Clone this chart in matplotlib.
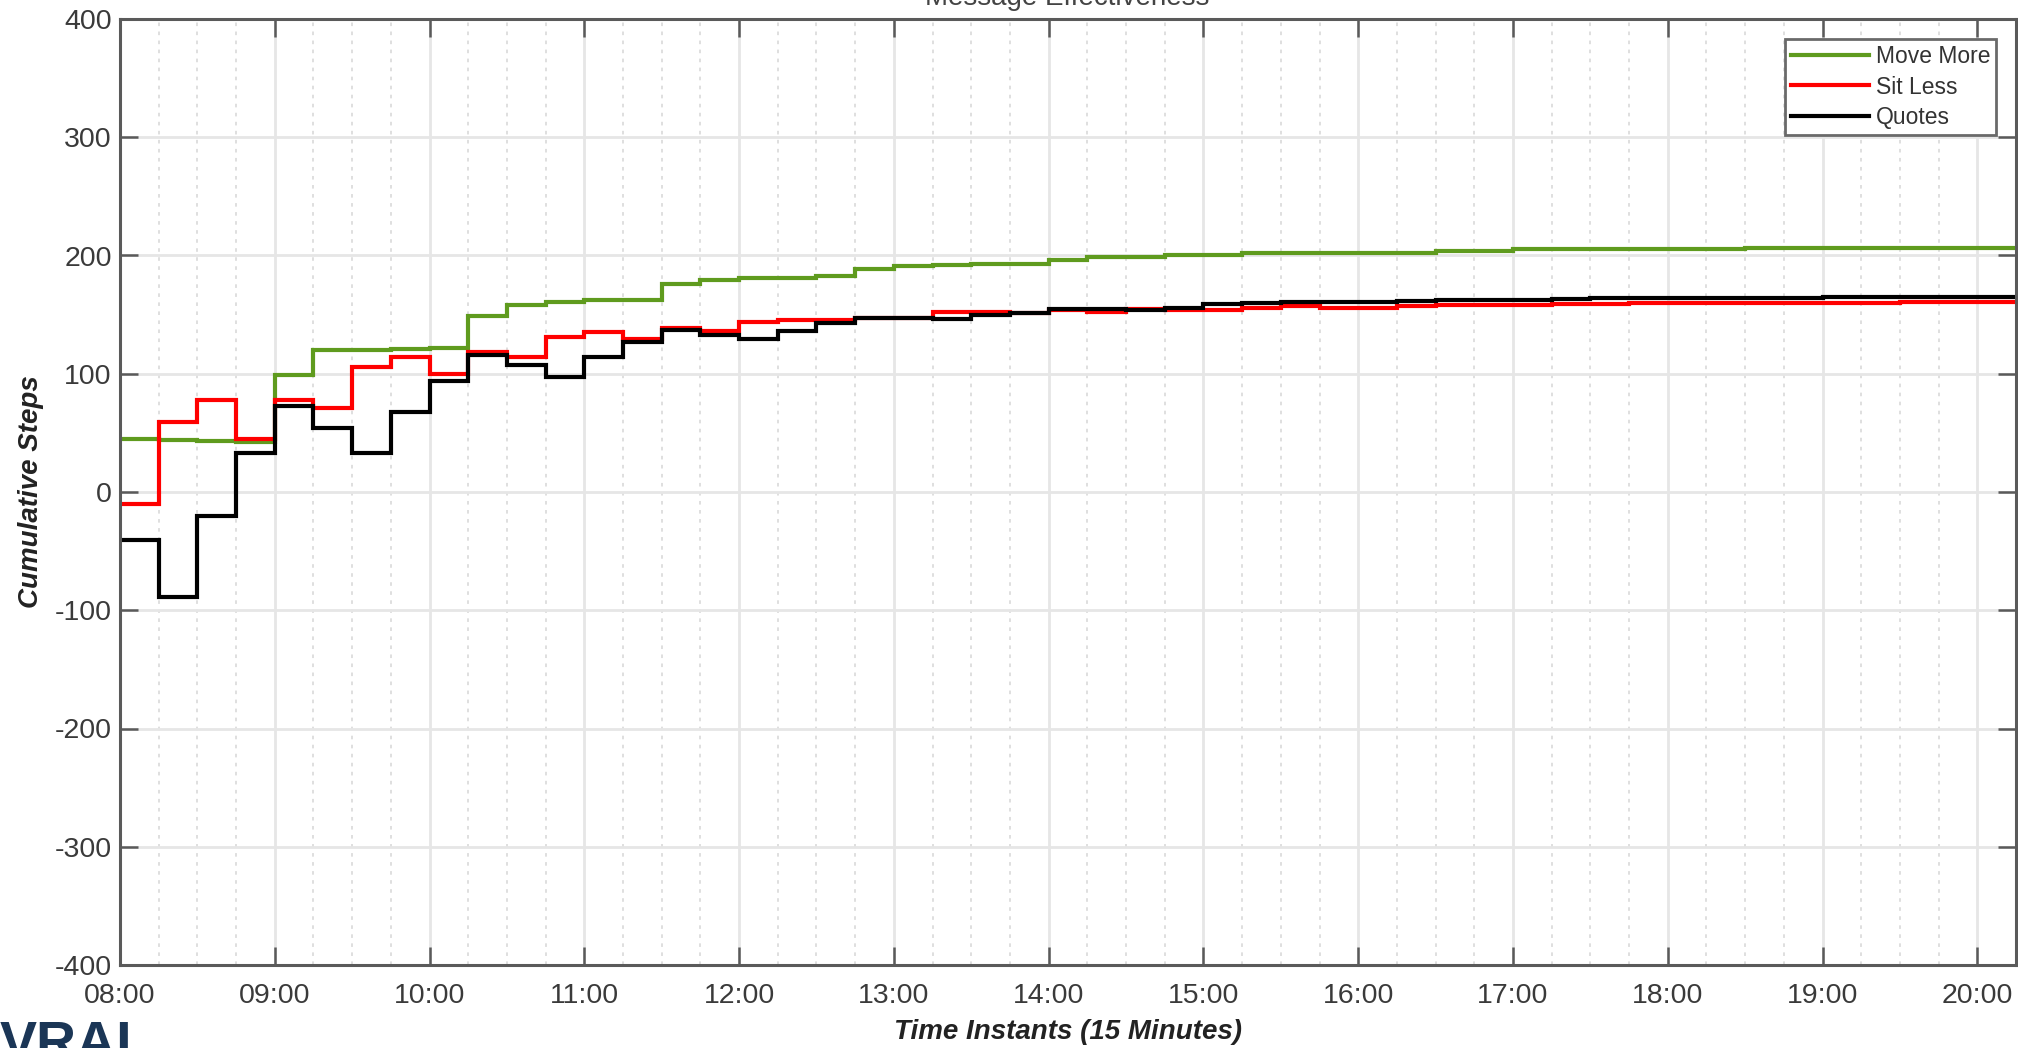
import numpy as np
import matplotlib
matplotlib.use("Agg")
import matplotlib.pyplot as plt
from matplotlib.ticker import MultipleLocator

plt.rcParams['font.family'] = ['Liberation Sans', 'DejaVu Sans']
plt.rcParams['axes.unicode_minus'] = False

# ---- data (15-minute cumulative steps, 08:00 .. 20:00, each held 15 min) ----
move_more = [45, 44, 43, 42, 99, 120, 120, 121, 121.5, 149, 158, 161, 162, 162,
             176, 179, 181, 181, 183, 189, 191, 192, 193, 193, 196, 198.5, 198.5,
             200, 200, 202, 202, 202.5, 202.5, 202.5, 204, 204, 205.5, 205.5,
             205.5, 205.5, 205.5, 205.5, 206.5, 206.5, 206.5, 206.5, 206.5,
             206.5, 206.5]
sit_less = [-10, 59, 78, 45, 78, 71, 106, 114, 100, 118, 114, 131, 135, 129,
            139, 136, 144, 145.5, 145.5, 147, 147, 152, 152.5, 151, 153.5, 152,
            155, 154, 154, 155.5, 157, 155.5, 156, 157, 158, 158, 158.5, 159,
            159, 159.5, 159.5, 159.5, 160, 160, 160, 160, 160.5, 160.5, 160.5]
quotes = [-41, -89, -20, 33, 73, 54, 33, 68, 93.5, 116, 107, 97.5, 114.5, 127,
          137, 133, 129, 136, 142.5, 147.5, 147, 146.5, 149.5, 151, 155, 154.5,
          153.5, 156, 159, 160, 160.5, 160.5, 160.5, 161.5, 162, 162, 162.5,
          163, 164, 164, 164, 164, 164, 164, 164.5, 164.5, 164.5, 164.5, 164.5]
series_names = ["Move More", "Sit Less", "Quotes"]
series_colors = ["#5f9b1e", "#ff0000", "#000000"]

start_hour = 8.0
step_hours = 0.25
hour_ticks = list(range(8, 21))
hour_labels = ["08:00", "09:00", "10:00", "11:00", "12:00", "13:00", "14:00",
               "15:00", "16:00", "17:00", "18:00", "19:00", "20:00"]
y_ticks = [-400, -300, -200, -100, 0, 100, 200, 300, 400]

W, H = 2018, 1048
fig = plt.figure(figsize=(W / 100, H / 100), dpi=100)
ax = fig.add_axes([120 / W, 1 - 965 / H, (2016 - 120) / W, (965 - 19) / H])

for vals, name, col in zip([move_more, sit_less, quotes], series_names, series_colors):
    edges = start_hour + step_hours * np.arange(len(vals) + 1)
    ax.stairs(vals, edges, color=col, linewidth=3.0, label=name, baseline=None)

ax.set_xlim(start_hour, start_hour + step_hours * len(move_more))
ax.set_ylim(-400, 400)
ax.set_xticks(hour_ticks)
ax.set_xticklabels(hour_labels)
ax.set_yticks(y_ticks)
ax.xaxis.set_minor_locator(MultipleLocator(step_hours))

ax.grid(True, which='major', color='#e6e6e6', linewidth=2.0, linestyle='-')
ax.grid(True, which='minor', axis='x', color='#dcdcdc', linewidth=1.3,
        linestyle=(0, (2, 3)))
ax.set_axisbelow(True)

for sp in ax.spines.values():
    sp.set_color('#5a5a5a')
    sp.set_linewidth(2.2)

ax.tick_params(which='major', direction='in', length=13, width=1.8,
               color='#5a5a5a', top=True, right=True, labelsize=20.5,
               labelcolor='#3a3a3a')
ax.tick_params(axis='x', which='major', pad=13)
ax.tick_params(axis='y', which='major', pad=6)
ax.tick_params(which='minor', length=0)

ax.set_xlabel("Time Instants (15 Minutes)", fontsize=20, fontweight='bold',
              fontstyle='italic', color='#222222', va='center')
ax.xaxis.set_label_coords(0.5, -(1032 - 965) / 946)
ax.set_ylabel("Cumulative Steps", fontsize=20, fontweight='bold',
              fontstyle='italic', color='#222222', va='center')
ax.yaxis.set_label_coords(-(120 - 31) / 1896, 0.5)

leg = ax.legend(loc='upper right', bbox_to_anchor=(1996 / W, 1 - 39 / H),
                bbox_transform=fig.transFigure, borderaxespad=0,
                fancybox=False, framealpha=1, edgecolor='#6a6a6a',
                fontsize=16.5, handlelength=3.4, handletextpad=0.3,
                labelspacing=0.34, borderpad=0.25)
leg.get_frame().set_linewidth(2.0)
for t in leg.get_texts():
    t.set_color('#333333')

# partially cut-off title and logo text, as in the original image
fig.text(1067 / W, 1 - 5 / H, "Message Effectiveness", ha='center',
         va='baseline', fontsize=20, color='#444444')
fig.text(0 / W, -12 / H, "VRAI", ha='left', va='baseline', fontsize=40,
         fontweight='bold', color='#1b3656')

fig.savefig("out.png", dpi=100)
